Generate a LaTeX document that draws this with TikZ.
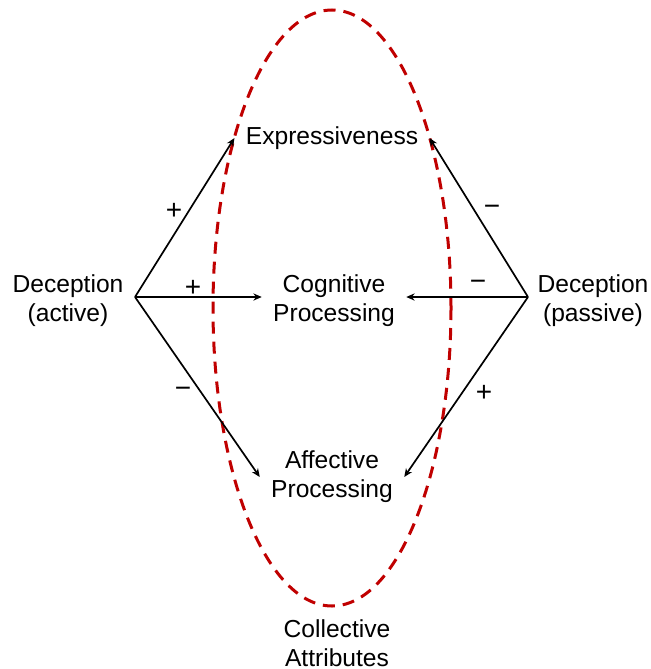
\documentclass[tikz,border=0pt]{standalone}
\usepackage{fontspec}
\setmainfont{Liberation Sans}
\usetikzlibrary{arrows.meta,positioning}

\definecolor{attrred}{RGB}{192,0,0}

\begin{document}
\begin{tikzpicture}[
    x=0.5pt,
    y=-0.5pt,
    >={Stealth[length=4.2pt, width=3.6pt]},
    lbl/.style={align=center, inner xsep=5.5pt, inner ysep=1pt, font=\fontsize{12.3}{14.6}\selectfont},
    sign/.style={inner sep=0pt, font=\fontsize{14}{16}\selectfont},
    line/.style={->, line width=0.85pt},
    attr/.style={draw=attrred, line width=1.5pt, dash pattern=on 6pt off 4pt}
]
\useasboundingbox (0,0) rectangle (651,669);

\draw[attr] (332,308) ellipse [x radius=119, y radius=298];

\node[lbl] (active) at (68,301) {Deception\\(active)};
\node[lbl] (passive) at (593,301) {Deception\\(passive)};
\coordinate (acthub) at (135,297);
\coordinate (pashub) at (528,297);

\node[lbl] (expr) at (332,138) {Expressiveness};
\node[lbl] (cogn) at (334,301) {Cognitive\\Processing};
\node[lbl] (affe) at (332,477) {Affective\\Processing};
\node[lbl] (coll) at (337,643) {Collective\\Attributes};

\node[sign] (s1) at (174,211) {+};
\node[sign] (s2) at (193,288) {+};
\node[sign] (s3) at (183,392) {−};
\node[sign] (s4) at (492,210) {−};
\node[sign] (s5) at (478,285) {−};
\node[sign] (s6) at (484,393) {+};

\draw[line] (acthub) -- (expr.west);
\draw[line] (acthub) -- (cogn.west |- acthub);
\draw[line] (acthub) -- (affe.west);
\draw[line] (pashub) -- (expr.east);
\draw[line] (pashub) -- (cogn.east |- pashub);
\draw[line] (pashub) -- (affe.east);
\end{tikzpicture}
\end{document}
